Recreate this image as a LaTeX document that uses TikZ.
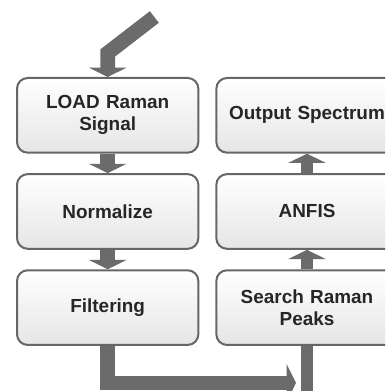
\documentclass[tikz,border=0pt]{standalone}
\usepackage{fontspec}
\setmainfont{Liberation Sans}
\usetikzlibrary{positioning,arrows.meta}

\begin{document}
\begin{tikzpicture}[
				block/.style={rectangle, rounded corners=8pt, draw=black!60, line width=1.5pt, top color=white, bottom color=black!10, minimum width=136pt, minimum height=56pt, text width=130pt, inner sep=2pt, align=center, font=\bfseries\fontsize{14.2}{16.5}\selectfont, text=black!85},
				pipe/.style={draw=black!58, line width=11pt},
				node distance=14.6pt
			]
			\clip (0,0) rectangle (288.75pt,-293.25pt);
			\node[block, anchor=north west] (load) at (12pt,-57.75pt) {LOAD Raman\\Signal};
			\node[block] (normalize) [below=of load] {Normalize};
			\node[block] (filtering) [below=of normalize] {Filtering};
			\node[block] (output) [right=12pt of load] {Output Spectrum};
			\node[block] (anfis) [below=of output] {ANFIS};
			\node[block] (search) [below=of anfis] {Search Raman\\Peaks};
			\coordinate[above right=45pt and 35pt of load.north] (input);
			\coordinate[above=18pt of load.north] (bend);
			\coordinate[below left=27.75pt and 8.25pt of search.south] (turn);
			\coordinate[below=40pt of search.south] (rise);
			\begin{scope}[pipe, -{Triangle[width=28pt,length=7pt]}]
			\draw (input) -- (bend) -- (load.north);
			\draw (load.south) -- (normalize.north);
			\draw (normalize.south) -- (filtering.north);
			\draw (filtering.south) |- (turn);
			\draw[line width=9.5pt] (search.north) -- (anfis.south);
			\draw[line width=9.5pt] (anfis.north) -- (output.south);
			\draw[line width=9.5pt, -] (rise) -- (search.south);
			\end{scope}
			\end{tikzpicture}
\end{document}
